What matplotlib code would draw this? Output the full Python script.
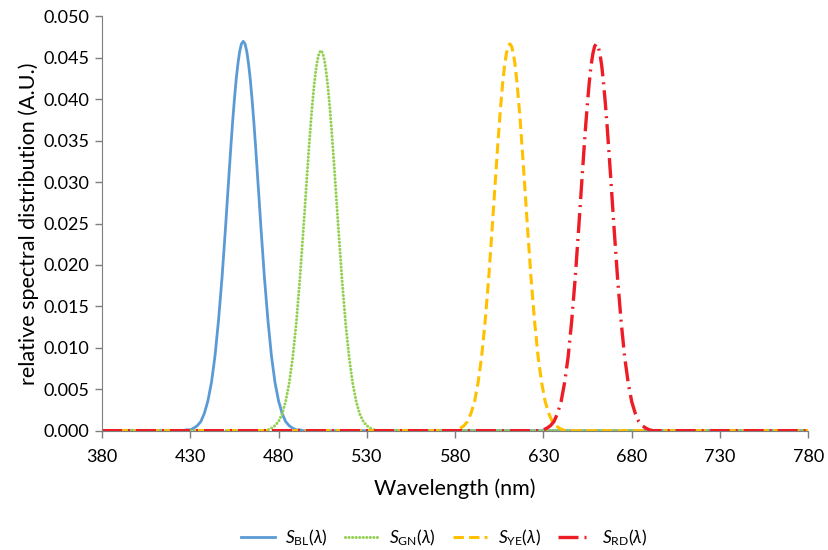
import numpy as np
import matplotlib
matplotlib.use("Agg")
import matplotlib.pyplot as plt

plt.rcParams['font.family'] = ['Lato', 'DejaVu Sans']
plt.rcParams['mathtext.fontset'] = 'custom'
plt.rcParams['mathtext.rm'] = 'Lato'
plt.rcParams['mathtext.it'] = 'Lato:italic'

# values (nm, A.U.)
wl_bl = [380, 426, 428, 430, 432, 434, 436, 438, 440, 442, 444, 446, 448, 450, 451, 452, 453, 454,
         455, 456, 457, 458, 459, 460, 461, 462, 463, 464, 465, 466, 467, 468, 469, 470, 472, 474,
         476, 478, 480, 482, 484, 486, 488, 490, 492, 494, 780]
s_bl = [0, 0, 0.0001, 0.0001, 0.0003, 0.0006, 0.0011, 0.0021, 0.0036, 0.0058, 0.0090, 0.0133,
        0.0185, 0.0246, 0.0279, 0.0311, 0.0343, 0.0373, 0.0400, 0.0424, 0.0443, 0.0458, 0.0467,
        0.0470, 0.0467, 0.0458, 0.0443, 0.0424, 0.0400, 0.0373, 0.0343, 0.0311, 0.0279, 0.0246,
        0.0185, 0.0133, 0.0090, 0.0058, 0.0036, 0.0021, 0.0011, 0.0006, 0.0003, 0.0001, 0.0001,
        0, 0]

wl_gn = [380, 472, 474, 476, 478, 480, 482, 484, 486, 488, 490, 492, 494, 495, 496, 497, 498,
         499, 500, 501, 502, 503, 504, 505, 506, 507, 508, 509, 510, 511, 512, 513, 514, 516, 518,
         520, 522, 524, 526, 528, 530, 532, 534, 536, 780]
s_gn = [0, 0, 0.0001, 0.0003, 0.0006, 0.0011, 0.0020, 0.0035, 0.0057, 0.0088, 0.0129, 0.0181,
        0.0241, 0.0272, 0.0304, 0.0335, 0.0364, 0.0391, 0.0414, 0.0433, 0.0447, 0.0456, 0.0459,
        0.0456, 0.0447, 0.0433, 0.0414, 0.0391, 0.0364, 0.0335, 0.0304, 0.0272, 0.0241, 0.0181,
        0.0129, 0.0088, 0.0057, 0.0035, 0.0020, 0.0011, 0.0006, 0.0003, 0.0001, 0, 0]

wl_ye = [380, 579, 581, 583, 585, 587, 589, 591, 593, 595, 597, 599, 601, 602, 603, 604, 605,
         606, 607, 608, 609, 610, 611, 612, 613, 614, 615, 616, 617, 618, 619, 620, 621, 623, 625,
         627, 629, 631, 633, 635, 637, 639, 641, 643, 780]
s_ye = [0, 0, 0.0001, 0.0003, 0.0006, 0.0011, 0.0021, 0.0035, 0.0058, 0.0089, 0.0132, 0.0184,
        0.0245, 0.0277, 0.0309, 0.0340, 0.0370, 0.0397, 0.0421, 0.0441, 0.0455, 0.0464, 0.0467,
        0.0464, 0.0455, 0.0441, 0.0421, 0.0397, 0.0370, 0.0340, 0.0309, 0.0277, 0.0245, 0.0184,
        0.0132, 0.0089, 0.0058, 0.0035, 0.0021, 0.0011, 0.0006, 0.0003, 0.0001, 0, 0]

wl_rd = [380, 628, 630, 632, 634, 636, 638, 640, 642, 644, 646, 648, 650, 651, 652, 653, 654,
         655, 656, 657, 658, 659, 660, 661, 662, 663, 664, 665, 666, 667, 668, 669, 670, 672, 674,
         676, 678, 680, 682, 684, 686, 688, 690, 692, 780]
s_rd = [0, 0, 0.0001, 0.0003, 0.0006, 0.0011, 0.0021, 0.0035, 0.0058, 0.0089, 0.0132, 0.0184,
        0.0245, 0.0277, 0.0309, 0.0340, 0.0370, 0.0397, 0.0421, 0.0441, 0.0455, 0.0464, 0.0467,
        0.0464, 0.0455, 0.0441, 0.0421, 0.0397, 0.0370, 0.0340, 0.0309, 0.0277, 0.0245, 0.0184,
        0.0132, 0.0089, 0.0058, 0.0035, 0.0021, 0.0011, 0.0006, 0.0003, 0.0001, 0, 0]

fig = plt.figure(figsize=(8.29, 5.5), dpi=100)
ax = fig.add_axes([0.123, 0.217, 0.852, 0.753])

ax.plot(wl_bl, s_bl, color='#5B9BD5', lw=2.0, ls='-', label=r'$S_{\mathrm{BL}}(\lambda)$')
ax.plot(wl_gn, s_gn, color='#92D050', lw=2.2, ls=(0, (0.01, 1.15)), dash_capstyle='round',
        label=r'$S_{\mathrm{GN}}(\lambda)$')
ax.plot(wl_ye, s_ye, color='#FFC000', lw=2.2, ls=(0, (3.4, 1.7)), label=r'$S_{\mathrm{YE}}(\lambda)$')
ax.plot(wl_rd, s_rd, color='#EE1C25', lw=2.4, ls=(0, (6, 1.8, 0.6, 1.8)),
        label=r'$S_{\mathrm{RD}}(\lambda)$')

ax.set_xlim(380, 780)
ax.set_ylim(0, 0.05)
ax.set_xticks(np.arange(380, 781, 50))
ax.set_yticks(np.arange(0, 0.0501, 0.005))
ax.yaxis.set_major_formatter(matplotlib.ticker.FormatStrFormatter('%.3f'))
ax.tick_params(labelsize=13, length=5, color='#7f7f7f', width=1, pad=4)
ax.tick_params(axis='x', pad=8)
for s in ['top', 'right']:
    ax.spines[s].set_visible(False)
for s in ['left', 'bottom']:
    ax.spines[s].set_color('#7f7f7f')

ax.set_xlabel('Wavelength (nm)', fontsize=15.5, labelpad=10)
ax.set_ylabel('relative spectral distribution (A.U.)', fontsize=15.5, labelpad=3)

fig.legend(loc='center', bbox_to_anchor=(0.536, 0.023), ncol=4, frameon=False, fontsize=12.5,
           handlelength=1.95, columnspacing=1.0, handletextpad=0.6)

fig.savefig('out.png', dpi=100)
